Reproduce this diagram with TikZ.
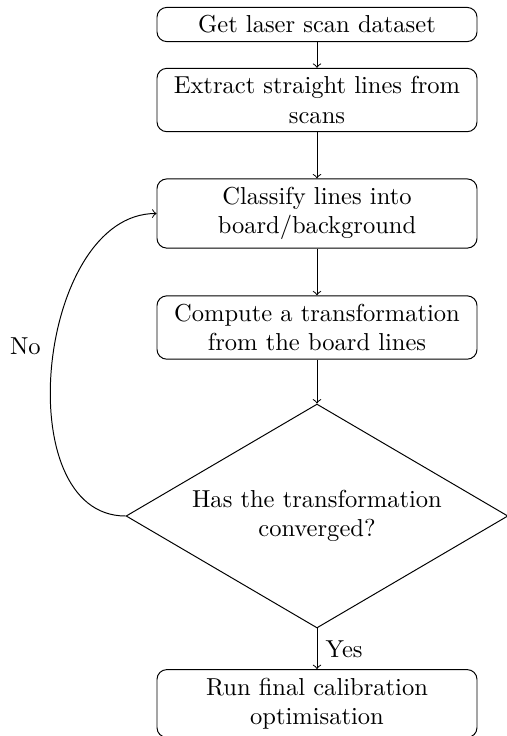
\documentclass[tikz,border=0pt]{standalone}
\usetikzlibrary{shapes.geometric}
\begin{document}
\begin{tikzpicture}[x=0.4077pt,y=-0.4077pt,
  stepbox/.style={draw, rounded corners=4pt, text width=123.8pt, align=flush center},
  decision/.style={draw, diamond, aspect=1.7, text width=110pt, align=flush center,
    inner sep=0pt, minimum width=155.7pt, minimum height=91.3pt},
  flow/.style={->}]
\useasboundingbox (0,0) rectangle (507,736);
\node[stepbox] (get) at (317,24.5) {Get laser scan dataset};
\node[stepbox] (extract) at (317,100) {Extract straight lines from scans};
\node[stepbox] (classify) at (317,213.5) {Classify lines into board/background};
\node[stepbox] (compute) at (317,327.5) {Compute a transformation from the board lines};
\node[decision] (conv) at (317,516) {Has the transformation converged?};
\node[stepbox] (final) at (317,703.5) {Run final calibration optimisation};
\draw[flow] (get) -- (extract);
\draw[flow] (extract) -- (classify);
\draw[flow] (classify) -- (compute);
\draw[flow] (compute) -- (conv);
\draw[flow] (conv) -- node[right] {Yes} (final);
\draw[flow] (conv.west) to[out=180,in=180] node[pos=0.54,left=2pt] {No} (classify.west);
\end{tikzpicture}
\end{document}
